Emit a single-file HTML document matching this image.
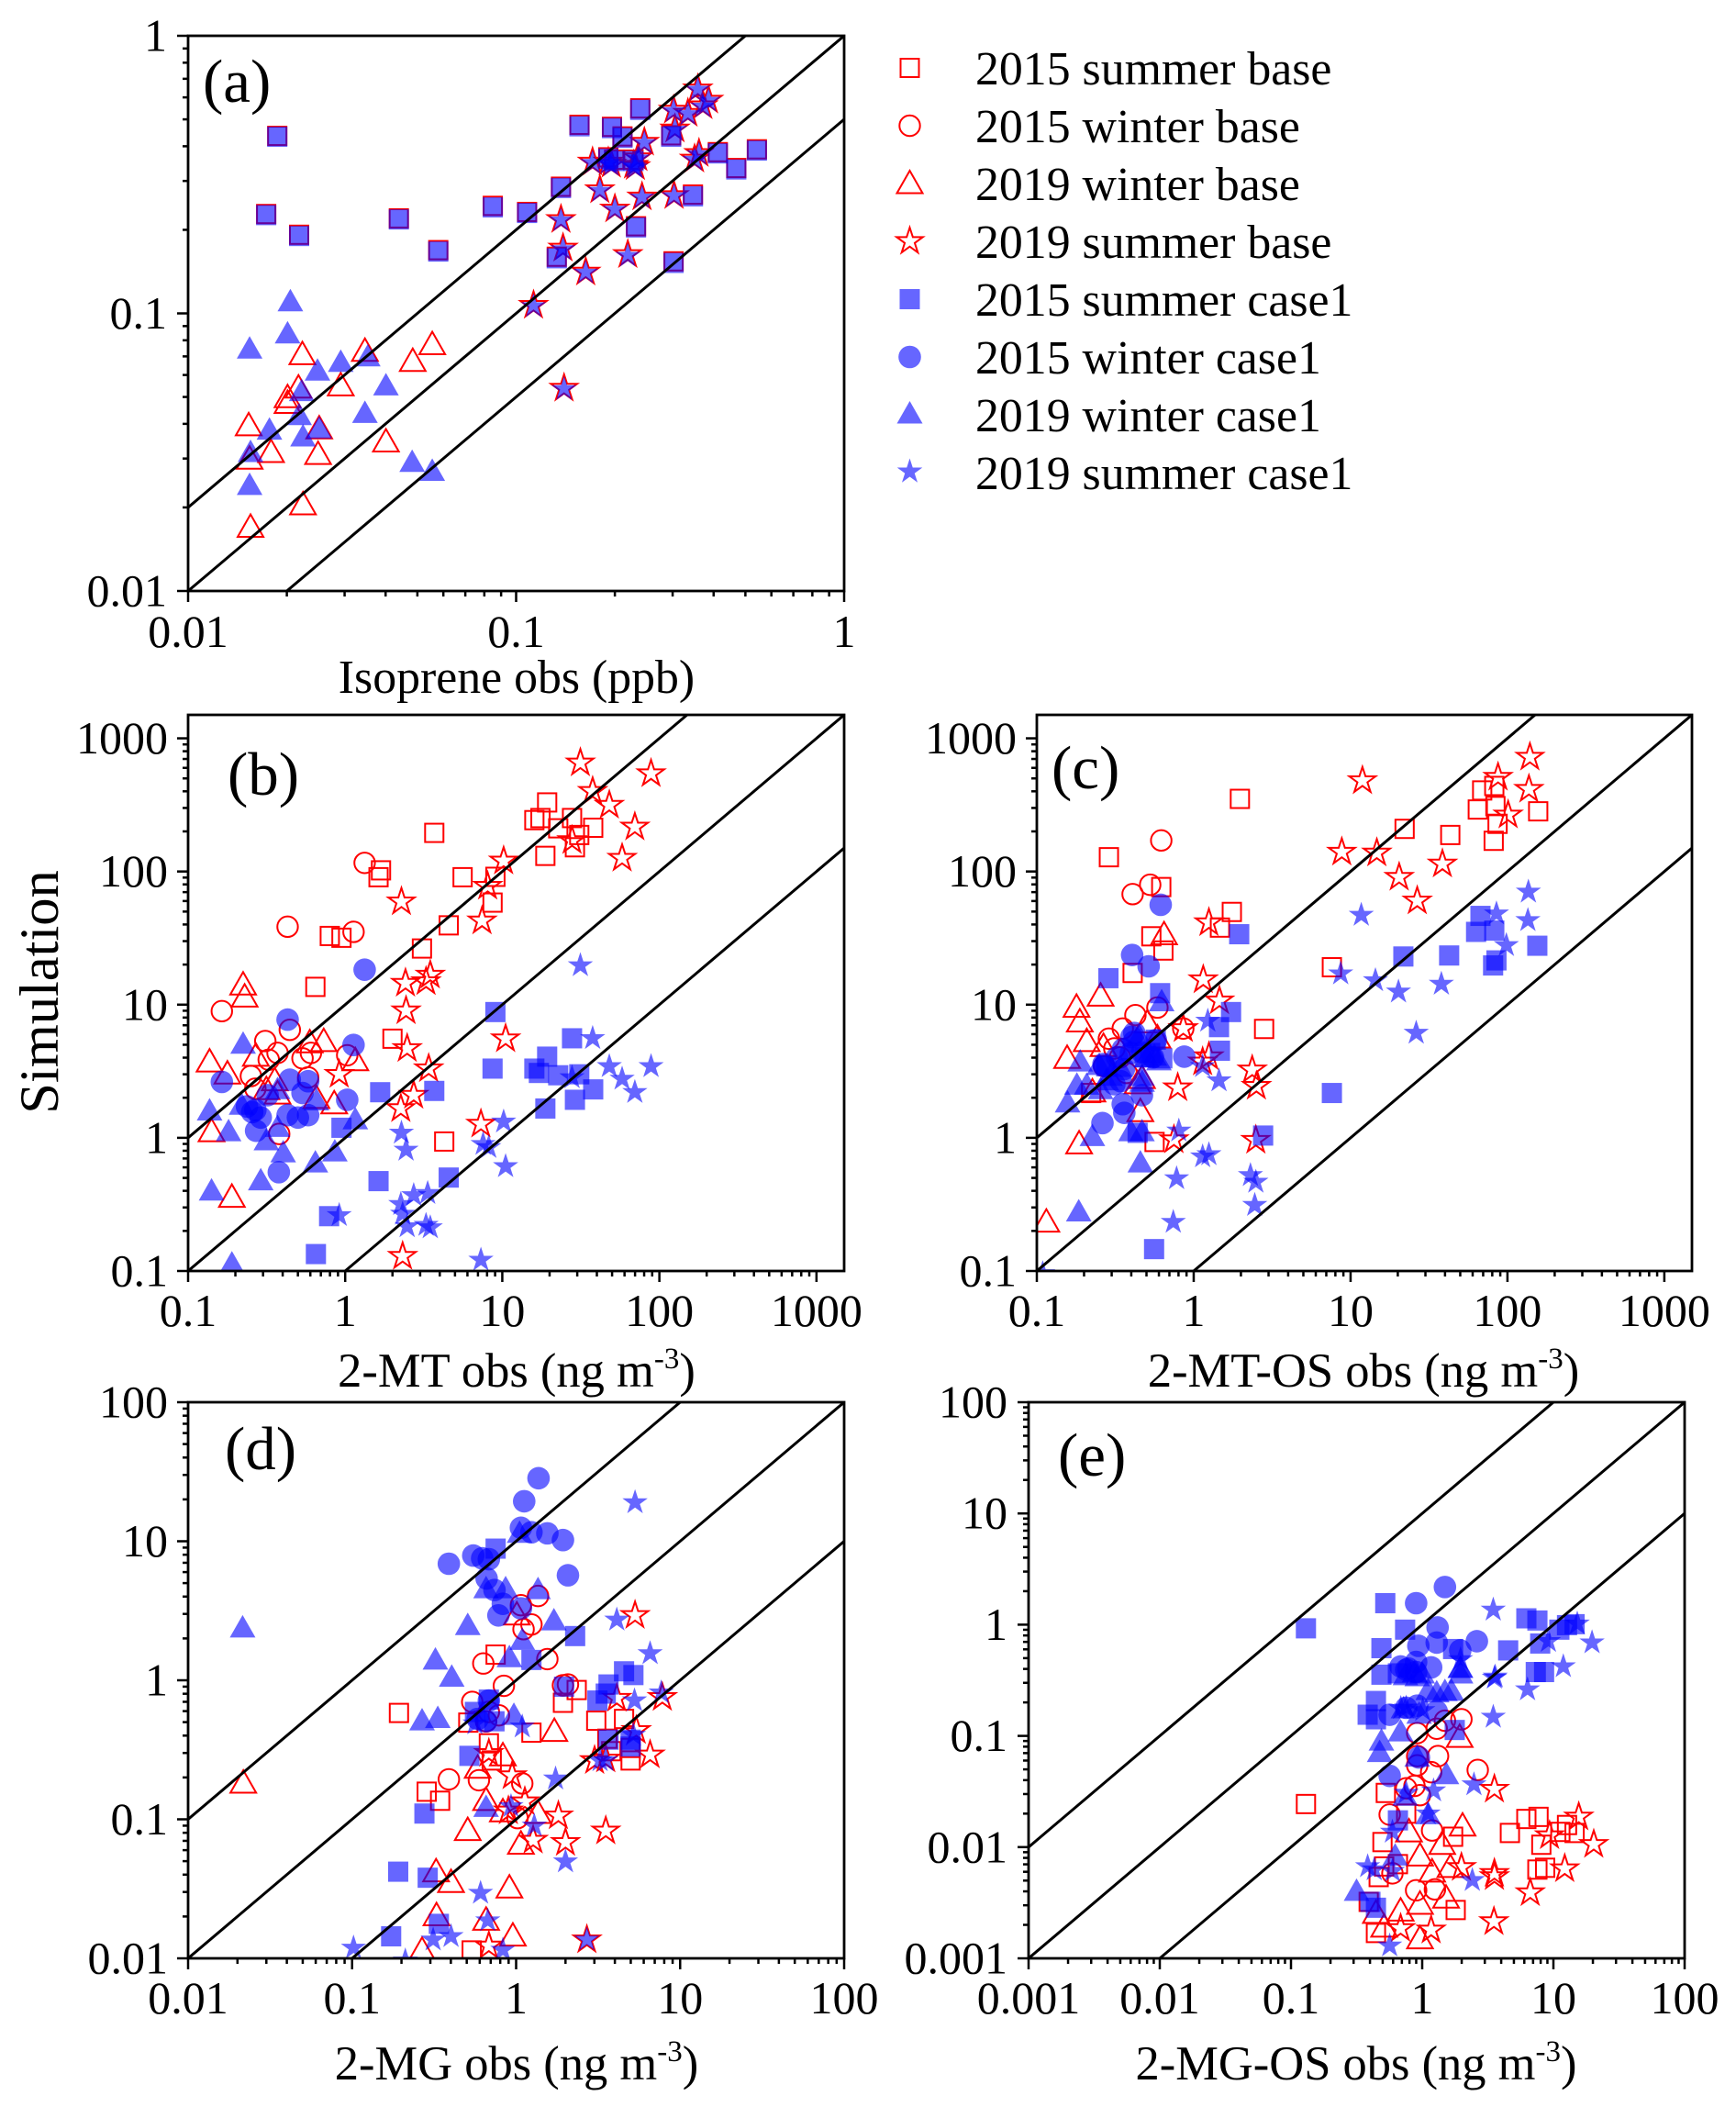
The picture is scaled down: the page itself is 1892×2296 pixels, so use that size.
<!DOCTYPE html>
<html lang="en">
<head>
<meta charset="utf-8">
<title>Simulation versus observation scatter plots</title>
<style>
html,body{margin:0;padding:0;background:#fff;}
svg{display:block;font-family:"Liberation Serif",serif;fill:#000;}
</style>
</head>
<body>
<svg id="figure" xmlns="http://www.w3.org/2000/svg" width="1892" height="2296" viewBox="0 0 1892 2296">
<rect x="0" y="0" width="1892" height="2296" fill="#fff"/>
<defs>
<clipPath id="clip-a"><rect x="205" y="39" width="715" height="605"/></clipPath>
<clipPath id="clip-b"><rect x="205" y="779" width="715" height="606"/></clipPath>
<clipPath id="clip-c"><rect x="1130" y="779" width="714" height="606"/></clipPath>
<clipPath id="clip-d"><rect x="205" y="1528" width="715" height="606"/></clipPath>
<clipPath id="clip-e"><rect x="1121" y="1528" width="715" height="606"/></clipPath>
</defs>
<g id="panels"></g>
<text transform="translate(63,1081) rotate(-90)" text-anchor="middle" font-size="60.5">Simulation</text>
<text x="221" y="111" font-size="67">(a)</text>
<text x="248" y="866" font-size="67">(b)</text>
<text x="1146" y="859" font-size="67">(c)</text>
<text x="245" y="1601" font-size="67">(d)</text>
<text x="1153" y="1608" font-size="67">(e)</text>
<text x="563" y="755" text-anchor="middle" font-size="51.8">Isoprene obs (ppb)</text>
<text x="563" y="1511" text-anchor="middle" font-size="52.5">2-MT obs (ng m<tspan font-size="33" dy="-20">-3</tspan><tspan dy="20">)</tspan></text>
<text x="1486" y="1511" text-anchor="middle" font-size="52.5">2-MT-OS obs (ng m<tspan font-size="33" dy="-20">-3</tspan><tspan dy="20">)</tspan></text>
<text x="563" y="2266" text-anchor="middle" font-size="52.5">2-MG obs (ng m<tspan font-size="33" dy="-20">-3</tspan><tspan dy="20">)</tspan></text>
<text x="1478" y="2266" text-anchor="middle" font-size="52.5">2-MG-OS obs (ng m<tspan font-size="33" dy="-20">-3</tspan><tspan dy="20">)</tspan></text>
<g id="legend" font-size="51.8">
<text x="1063" y="92">2015 summer base</text>
<text x="1063" y="155">2015 winter base</text>
<text x="1063" y="218">2019 winter base</text>
<text x="1063" y="281">2019 summer base</text>
<text x="1063" y="344">2015 summer case1</text>
<text x="1063" y="407">2015 winter case1</text>
<text x="1063" y="470">2019 winter case1</text>
<text x="1063" y="533">2019 summer case1</text>
</g>
</svg>
<script>
/* ---------- tick labels ---------- */
const ticksA = ["0.01","0.1","1"];
const ticksBC = ["0.1","1","10","100","1000"];
const ticksD = ["0.01","0.1","1","10","100"];
const ticksE = ["0.001","0.01","0.1","1","10","100"];

/* ---------- panel (a) Isoprene: [obs, sim] ---------- */
const aS15C = [[.0187,.433],[.0173,.226],[.0218,.19],[.0439,.218],[.0579,.167],[.0849,.241],[.108,.23],[.137,.283],[.156,.472],[.133,.158],[.196,.465],[.239,.541],[.211,.429],[.191,.361],[.199,.354],[.228,.354],[.232,.204],[.302,.152],[.297,.433],[.346,.264],[.412,.377],[.469,.33],[.542,.386]];
const aS15B = [[.0187,.436],[.0173,.228],[.0218,.192],[.0439,.22],[.0579,.169],[.0849,.244],[.108,.232],[.137,.286],[.156,.478],[.133,.16],[.196,.47],[.239,.548],[.211,.434],[.191,.365],[.199,.358],[.228,.358],[.232,.206],[.302,.154],[.297,.438],[.346,.268],[.412,.381],[.469,.334],[.542,.39]];
const aS19C = [[.113,.106],[.14,.0533],[.163,.14],[.139,.17],[.137,.216],[.2,.236],[.219,.161],[.242,.261],[.303,.264],[.18,.276],[.171,.348],[.191,.348],[.195,.342],[.228,.339],[.235,.361],[.246,.41],[.302,.535],[.334,.521],[.305,.458],[.358,.638],[.386,.582],[.371,.555],[.361,.374],[.35,.357],[.231,.335]];
const aS19B = [[.113,.107],[.14,.0538],[.163,.141],[.139,.172],[.137,.218],[.2,.238],[.219,.163],[.242,.263],[.303,.266],[.18,.279],[.171,.351],[.191,.351],[.195,.345],[.228,.342],[.235,.364],[.246,.414],[.302,.54],[.334,.526],[.305,.462],[.358,.644],[.386,.587],[.371,.56],[.361,.377],[.35,.36],[.231,.338]];
const aW19C = [[.0154,.075],[.0205,.111],[.0201,.0851],[.0248,.0625],[.0292,.0672],[.0353,.0703],[.0401,.0553],[.0346,.044],[.0222,.0527],[.0218,.0432],[.0224,.0362],[.0251,.0387],[.0177,.0383],[.0155,.0318],[.0154,.0242],[.0482,.0293],[.0555,.0272]];
const aW19B = [[.0223,.0716],[.0346,.0736],[.0484,.0677],[.0555,.0778],[.0292,.0553],[.0217,.0543],[.0201,.0501],[.0201,.0478],[.0153,.0397],[.0179,.0318],[.0249,.0313],[.0154,.0301],[.0251,.0387],[.0401,.0347],[.0224,.0206],[.0155,.0171]];
const aW15B = [];
const aW15C = [];

/* ---------- panel (b) 2-MT ---------- */
const bS15B = [[.646,13.6],[.798,32.8],[.947,31.8],[1.69,102],[1.63,90.6],[3.69,195],[3.08,26.4],[4.56,39.4],[5.59,90.6],[9.04,91.2],[8.67,58.4],[2,5.55],[4.27,.938],[16,243],[17.5,252],[19.3,330],[27.8,252],[22.7,211],[30.9,188],[37.9,213],[29,152],[18.8,131]];
const bS15C = [[.651,.134],[.79,.258],[1.63,.473],[4.56,.503],[1.67,2.2],[3.69,2.25],[.947,1.19],[9.04,8.8],[8.67,3.31],[16,3.31],[17.1,3.07],[19.3,4.07],[27.8,5.59],[22.7,2.95],[30.9,3],[37.9,2.31],[29,1.93],[18.8,1.66]];
const bW15B = [[1.33,116],[.43,38.5],[1.13,35.2],[.164,8.94],[.444,6.47],[.31,5.33],[.371,4.34],[.326,3.86],[.251,2.91],[.535,3.95],[.605,4.34],[.581,2.84],[.268,2.34],[.38,1.07],[1.03,4.17]];
const bW15C = [[1.33,18.3],[.43,7.72],[.164,2.63],[1.13,4.98],[.444,2.73],[.581,2.66],[.535,2.17],[.321,2.09],[.237,1.72],[.268,1.62],[.29,1.42],[.271,1.13],[.378,.552],[1.03,1.93],[.43,1.48],[.5,1.42],[.581,1.48],[.256,1.56]];
const bW19B = [[.224,14.3],[.229,11.6],[.137,3.78],[.178,3.07],[.27,4.17],[.73,5.38],[.595,5.26],[1.16,3.86],[.141,1.13],[.851,1.83],[.19,.364],[.371,2.17],[.315,2.34],[.356,2.73],[.656,2.01]];
const bW19C = [[.224,5.14],[.137,1.62],[.181,1.13],[1.16,1.39],[.403,.786],[.646,.659],[.859,.798],[.29,.484],[.141,.406],[.19,.115],[.315,.968],[.371,1.22],[.219,1.79],[.371,2.34],[.656,1.93]];
const bS19B = [[31.4,655],[88.5,543],[37.6,400],[48,315],[69.8,216],[57.9,126],[27.8,171],[10.2,120],[8.07,77.6],[7.43,42.6],[2.28,59.3],[3.48,16.7],[2.42,14.5],[3.27,14.9],[2.44,9.01],[2.48,4.69],[10.5,5.55],[3.4,3.31],[.916,3],[2.73,2.09],[2.26,1.66],[7.31,1.27],[2.32,.129]];
const bS19C = [[31.4,19.7],[88.5,3.44],[37.6,5.59],[48,3.44],[69.8,2.2],[57.9,2.77],[27.8,2.84],[10.2,1.32],[7.55,.896],[8.2,.849],[7.31,.121],[2.28,1.09],[2.44,.811],[10.5,.61],[2.73,.37],[2.26,.317],[3.35,.384],[2.32,.268],[2.48,.216],[3.27,.221],[3.48,.212],[.916,.262]];

/* ---------- panel (c) 2-MT-OS ---------- */
const cS15B = [[1.97,351],[.288,128],[.621,76.4],[.537,32.6],[.641,25.5],[.408,17.3],[1.47,37.9],[1.75,49.7],[2.81,6.57],[7.6,19.1],[22.1,209],[43.2,188],[64.7,292],[69,406],[82.4,439],[83.8,310],[86.5,228],[81.7,170],[157,283],[.222,2.17],[.563,.931]];
const cS15C = [[1.95,33.8],[.286,15.8],[.611,12.2],[1.45,6.78],[1.73,8.8],[1.47,4.51],[.631,3.95],[.559,.146],[7.6,2.17],[21.7,23],[42.5,23.4],[63.1,35.2],[67.3,46.4],[82.4,36],[81,19.7],[85.1,21.5],[155,27.7],[2.77,1.04],[.439,1.09],[.487,4.02],[.573,5.46],[.528,4.34],[.277,3.44]];
const cW15B = [[.621,171],[.528,79.5],[.408,67.6],[.587,9.51],[.425,8.34],[.858,6.62],[.288,5.55],[.353,6.62],[.312,4.69],[.339,4.02],[.373,3.07],[.268,3.46]];
const cW15C = [[.616,56.2],[.405,23.6],[.516,19.4],[.871,4.07],[.418,6.13],[.415,5.26],[.266,3.58],[.325,4.02],[.398,4.34],[.468,2.09],[.353,1.79],[.361,1.54],[.262,1.29],[.312,2.53],[.55,4.02],[.401,5.72],[.354,4.63],[.268,3.46],[.359,3.28],[.343,2.66],[.469,4.39],[.574,5.42]];
const cW19B = [[.647,34.1],[.179,9.73],[.255,11.8],[.188,7.55],[.208,5.38],[.266,4.94],[.156,4.02],[.507,7.43],[.468,2.84],[.457,1.6],[.186,.916],[.115,.237],[.226,2.25],[.587,5.72],[.439,2.59]];
const cW19C = [[.625,10.7],[.189,3.78],[.157,1.86],[.18,2.53],[.208,2.53],[.226,1.04],[.457,.659],[.185,.283],[.468,1.13],[.398,1.13],[.277,2.73],[.339,3.44],[.468,2.95],[.255,2.34],[.561,4.17],[.6,3.85],[.501,4.06],[.293,2.95],[.25,3.56],[.449,5.87],[.469,2.66]];
const cS19B = [[139,723],[87.1,511],[137,415],[101,266],[11.9,481],[8.79,140],[14.7,138],[20.4,90.6],[38.5,114],[26.6,60.2],[1.25,41.3],[1.15,15.4],[1.46,10.7],[.858,6.62],[1.25,4.07],[1.14,3.72],[2.36,3.24],[2.51,2.44],[.791,2.38],[2.49,.96],[.748,.968]];
const cS19C = [[136,70.3],[85.1,48.2],[135,43],[98.4,27.9],[11.7,47.1],[8.65,17.1],[14.4,15.2],[20.2,12.5],[37.9,14.3],[26.2,6.13],[1.23,7.55],[1.45,2.69],[1.14,3.44],[.804,1.13],[.778,.495],[.741,.233],[1.25,.75],[1.14,.723],[2.3,.523],[2.49,.466],[2.45,.312],[.109,.096]];

/* ---------- panel (d) 2-MG ---------- */
const dS15B = [[.193,.582],[.511,.496],[.75,1.53],[1.93,.689],[2.34,.851],[3.08,.512],[4.55,.527],[1.24,.42],[.682,.352],[.71,.265],[.285,.158],[.344,.136],[3.6,.38],[3.8,.309],[4.99,.326],[4.99,.265],[.536,.0114]];
const dS15C = [[.75,8.85],[2.29,2.08],[1.24,1.4],[4.55,1.16],[5.19,1.09],[3.66,.933],[3.52,.802],[3.13,.715],[1.96,.899],[.682,.726],[.738,.507],[.561,.592],[.519,.286],[.276,.11],[3.66,.374],[4.99,.374],[4.99,.334],[.191,.042],[.289,.038],[.338,.0177],[.173,.0144]];
const dW15B = [[.631,1.32],[.842,.912],[1.55,1.42],[2.07,.933],[1.93,.92],[1.36,4.04],[1.07,3.47],[1.24,2.52],[1.11,2.33],[.54,.699],[.682,.592],[.785,.56],[.656,.507],[.389,.194],[.593,.191],[1.09,.181],[1.02,.102]];
const dW15C = [[1.37,28.4],[1.12,19.4],[1.07,12.5],[1.24,11.6],[1.55,11.4],[1.93,10.2],[2.07,5.69],[.389,6.89],[.548,7.89],[.621,7.54],[.682,7.43],[.661,5.4],[.738,4.46],[.83,3.55],[.78,2.93],[1.07,3.29],[.682,.715],[.583,.527],[.656,.507]];
const dW19B = [[.0217,.185],[1.71,.436],[1.01,3],[.83,.291],[.583,.237],[.656,.139],[.83,.115],[1.36,.112],[.507,.0845],[1.07,.0673],[.325,.0426],[.401,.0357],[.91,.0326],[.327,.0206],[.656,.0191],[.955,.0147],[.267,.0116]];
const dW19C = [[.0215,2.42],[.507,2.52],[.322,1.42],[.405,1.07],[.267,.519],[.333,.54],[1.7,2.72],[1.09,1.97],[.91,1.48],[.969,.569],[.656,4.63],[.863,4.63],[1.36,4.56],[1.05,11.6],[.656,.124]];
const dS19B = [[5.31,2.93],[7.79,.754],[4.11,.743],[5.4,.436],[6.56,.291],[3.01,.265],[3.52,.272],[.946,.206],[.682,.298],[1.13,.134],[1.81,.106],[2,.0683],[3.52,.0826],[1.27,.0709],[.682,.0123],[2.7,.0136],[.897,.115]];
const dS19C = [[5.31,19],[4.11,2.72],[6.56,1.56],[7.67,.814],[5.27,.715],[1.09,.463],[.561,.488],[1.74,.196],[3.25,.265],[3.52,.265],[5.19,.404],[.607,.0295],[.672,.0187],[1.29,.0899],[2,.0496],[.931,.124],[.102,.0119],[.211,.00962],[.312,.0136],[.401,.0144],[.83,.0115],[2.7,.0136]];

/* ---------- panel (e) 2-MG-OS ---------- */
const eS15B = [[.13,.0244],[.528,.0307],[.755,.02],[.498,.0111],[.513,.0067],[.653,.00703],[.466,.00538],[.391,.00322],[.444,.00169],[1.8,.00272],[1.72,.0124],[4.66,.0134],[6.22,.0179],[7.7,.0187],[8.09,.0105],[7.55,.00628],[8.65,.00652],[11.3,.0137],[12.7,.0158],[14.5,.0134]];
const eS15C = [[.13,.927],[.523,1.56],[.741,.902],[.489,.615],[.489,.355],[.653,.365],[1.72,.604],[4.52,.587],[6.22,1.14],[7.55,1.09],[7.93,.677],[7.34,.375],[8.49,.375],[11.1,.902],[12.7,.99],[14.5,1.01],[.444,.206],[.384,.155],[.444,.141],[1.77,.113],[.403,.00322],[.444,.00285],[.653,.0174]];
const eW15B = [[1.99,.141],[1.49,.137],[1.29,.116],[.916,.106],[1.32,.0658],[.916,.0658],[.916,.0544],[2.65,.0494],[1.17,.0472],[.755,.0338],[.873,.0355],[.962,.0293],[.565,.0196],[1.19,.0141],[.593,.00581],[.899,.00409],[1.25,.00417]];
const eW15C = [[1.49,2.18],[.899,1.56],[1.31,.944],[1.29,.69],[2.61,.71],[.935,.645],[1.95,.587],[.899,.462],[1.17,.413],[.685,.421],[.916,.187],[1.29,.166],[.565,.155],[.755,.179],[.944,.064],[.565,.0437],[.899,.375],[.755,.394],[.785,.403]];
const eW19B = [[1.93,.099],[2.03,.0158],[1.42,.0108],[.793,.014],[.962,.0085],[1.64,.0067],[1.19,.0061],[1.52,.00355],[.962,.00313],[.685,.00272],[.513,.00195],[.962,.00153],[.444,.00259]];
const eW19C = [[1.95,.413],[1.49,.256],[1.29,.249],[.685,.111],[.489,.0918],[.474,.0724],[.916,.0658],[1.53,.0458],[.741,.0293],[1.11,.02],[.622,.0085],[.316,.00409],[.916,.348],[1.11,.261],[.72,.179],[.875,.377],[.745,.355],[1,.368],[1.96,.415],[1.96,.368],[1.67,.258],[.948,.16]];
const eS19B = [[15.6,.0187],[20.3,.0106],[9.35,.0127],[12.2,.0064],[3.55,.0332],[1.99,.00658],[3.55,.00581],[3.55,.00544],[6.66,.0039],[3.52,.00214],[1.17,.0018],[.685,.00186]];
const eS19C = [[3.48,1.36],[15.2,1.02],[19.7,.69],[9.16,.71],[11.9,.421],[3.55,.332],[6.35,.261],[3.48,.148],[2.48,.0365],[1.22,.0322],[.755,.0307],[1.11,.02],[.593,.0137],[.384,.0067],[.431,.00628],[.593,.0061],[2.41,.00504],[.565,.0013],[.755,.179],[1.01,.17],[3.6,.34],[1.96,.487],[.687,.177]];

/* ---------- reference-line ratios ---------- */
const ratiosA = [2,1,0.5];
const ratiosOther = [10,1,0.1];

/* ---------- layout ---------- */
const NS = 'http://www.w3.org/2000/svg';
const RED = '#ff0000';
const BLUE = 'rgba(0,0,255,0.6)';
const layouts = [
 {id:'a',L:205,R:920,T:39,B:644,xMin:.01,xMax:1,yMin:.01,yMax:1,xTicks:ticksA,yTicks:ticksA,ratios:ratiosA,
  series:[aS15B,aW15B,aW19B,aS19B,aS15C,aW15C,aW19C,aS19C],xLabelY:705,yLabelX:182},
 {id:'b',L:205,R:920,T:779,B:1385,xMin:.1,xMax:1500,yMin:.1,yMax:1500,xTicks:ticksBC,yTicks:ticksBC,ratios:ratiosOther,
  series:[bS15B,bW15B,bW19B,bS19B,bS15C,bW15C,bW19C,bS19C],xLabelY:1445,yLabelX:183},
 {id:'c',L:1130,R:1844,T:779,B:1385,xMin:.1,xMax:1500,yMin:.1,yMax:1500,xTicks:ticksBC,yTicks:ticksBC,ratios:ratiosOther,
  series:[cS15B,cW15B,cW19B,cS19B,cS15C,cW15C,cW19C,cS19C],xLabelY:1445,yLabelX:1108},
 {id:'d',L:205,R:920,T:1528,B:2134,xMin:.01,xMax:100,yMin:.01,yMax:100,xTicks:ticksD,yTicks:ticksD,ratios:ratiosOther,
  series:[dS15B,dW15B,dW19B,dS19B,dS15C,dW15C,dW19C,dS19C],xLabelY:2194,yLabelX:183},
 {id:'e',L:1121,R:1836,T:1528,B:2134,xMin:.001,xMax:100,yMin:.001,yMax:100,xTicks:ticksE,yTicks:ticksE,ratios:ratiosOther,
  series:[eS15B,eW15B,eW19B,eS19B,eS15C,eW15C,eW19C,eS19C],xLabelY:2194,yLabelX:1098}
];
/* marker kinds follow the legend order */
const seriesShapes = ['square','circle','triangle','star','square','circle','triangle','star'];
const seriesFilled = [false,false,false,false,true,true,true,true];

function svgEl(tag){ return document.createElementNS(NS, tag); }

function logScale(min,max,a,b){
  const l0=Math.log10(min), l1=Math.log10(max);
  return v => a+(Math.log10(v)-l0)/(l1-l0)*(b-a);
}

function starPoints(R){
  const pts=[];
  for(let i=0;i<10;i++){
    const r=i%2===0?R:R*0.382, t=-Math.PI/2+i*Math.PI/5;
    pts.push((r*Math.cos(t)).toFixed(2)+','+(r*Math.sin(t)).toFixed(2));
  }
  return pts.join(' ');
}

function makeMarker(shape,filled,x,y){
  let m;
  if(shape==='square'){
    m=svgEl('rect');
    const h=filled?11:10;
    m.setAttribute('x',(x-h).toFixed(2));
    m.setAttribute('y',(y-h).toFixed(2));
    m.setAttribute('width',2*h);
    m.setAttribute('height',2*h);
  }else if(shape==='circle'){
    m=svgEl('circle');
    m.setAttribute('cx',x.toFixed(2));
    m.setAttribute('cy',y.toFixed(2));
    m.setAttribute('r',filled?12.3:11.2);
  }else if(shape==='triangle'){
    m=svgEl('polygon');
    m.setAttribute('points',(x)+','+(y-13)+' '+(x+14)+','+(y+11.5)+' '+(x-14)+','+(y+11.5));
  }else{
    m=svgEl('polygon');
    m.setAttribute('points',starPoints(filled?14.5:15));
    m.setAttribute('transform','translate('+x.toFixed(2)+','+y.toFixed(2)+')');
  }
  if(filled){
    m.setAttribute('fill',BLUE);
    m.setAttribute('stroke','none');
  }else{
    m.setAttribute('fill','none');
    m.setAttribute('stroke',RED);
    m.setAttribute('stroke-width','2');
  }
  return m;
}

function addLine(parent,x1,y1,x2,y2,w){
  const l=svgEl('line');
  l.setAttribute('x1',x1); l.setAttribute('y1',y1);
  l.setAttribute('x2',x2); l.setAttribute('y2',y2);
  l.setAttribute('stroke','#000');
  l.setAttribute('stroke-width',w);
  parent.appendChild(l);
  return l;
}

function drawTicks(g,p,sx,sy){
  for(let e=Math.round(Math.log10(p.xMin));e<=Math.log10(p.xMax);e++){
    for(let k=1;k<10;k++){
      const v=k*Math.pow(10,e);
      if(v>p.xMax*1.0001) continue;
      const x=sx(v), len=k===1?12:6;
      const t=addLine(g,x,p.B,x,p.B+len,2.5);
      
      
    }
  }
  for(let e=Math.round(Math.log10(p.yMin));e<=Math.log10(p.yMax);e++){
    for(let k=1;k<10;k++){
      const v=k*Math.pow(10,e);
      if(v>p.yMax*1.0001) continue;
      const y=sy(v), len=k===1?12:6;
      const t=addLine(g,p.L-len,y,p.L,y,2.5);
      
      
    }
  }
  p.xTicks.forEach(label=>{
    const t=svgEl('text');
    t.setAttribute('x',sx(parseFloat(label)));
    t.setAttribute('y',p.xLabelY);
    t.setAttribute('text-anchor','middle');
    t.setAttribute('font-size','50');
    t.textContent=label;
    
    
    g.appendChild(t);
  });
  p.yTicks.forEach(label=>{
    const t=svgEl('text');
    t.setAttribute('x',p.yLabelX);
    t.setAttribute('y',sy(parseFloat(label))+16.5);
    t.setAttribute('text-anchor','end');
    t.setAttribute('font-size','50');
    t.textContent=label;
    
    
    g.appendChild(t);
  });
}

function drawPanel(p){
  const root=document.getElementById('panels');
  const g=svgEl('g');
  
  
  root.appendChild(g);
  const sx=logScale(p.xMin,p.xMax,p.L,p.R);
  const sy=logScale(p.yMin,p.yMax,p.B,p.T);
  const plot=svgEl('g');
  plot.setAttribute('clip-path','url(#clip-'+p.id+')');
  
  
  g.appendChild(plot);
  p.series.forEach((pts,i)=>{
    const sg=svgEl('g');
    
    
    plot.appendChild(sg);
    pts.forEach(d=>{
      const m=makeMarker(seriesShapes[i],seriesFilled[i],sx(d[0]),sy(d[1]));
      
      
      sg.appendChild(m);
    });
  });
  p.ratios.forEach(r=>{
    const x0=Math.max(p.xMin,p.yMin/r);
    const x1=Math.min(p.xMax,p.yMax/r);
    const l=addLine(plot,sx(x0),sy(x0*r),sx(x1),sy(x1*r),3);
    
    
  });
  const box=svgEl('rect');
  box.setAttribute('x',p.L); box.setAttribute('y',p.T);
  box.setAttribute('width',p.R-p.L); box.setAttribute('height',p.B-p.T);
  box.setAttribute('fill','none');
  box.setAttribute('stroke','#000');
  box.setAttribute('stroke-width','2.8');
  
  
  g.appendChild(box);
  drawTicks(g,p,sx,sy);
}
layouts.forEach(drawPanel);

/* legend markers */
const legendRowY=[74,137,199,263,326,389,450,514];
legendRowY.forEach((y,i)=>{
  const m=makeMarker(seriesShapes[i],seriesFilled[i],991.5,y);
  
  
  document.getElementById('legend').appendChild(m);
});
</script>
</body>
</html>
